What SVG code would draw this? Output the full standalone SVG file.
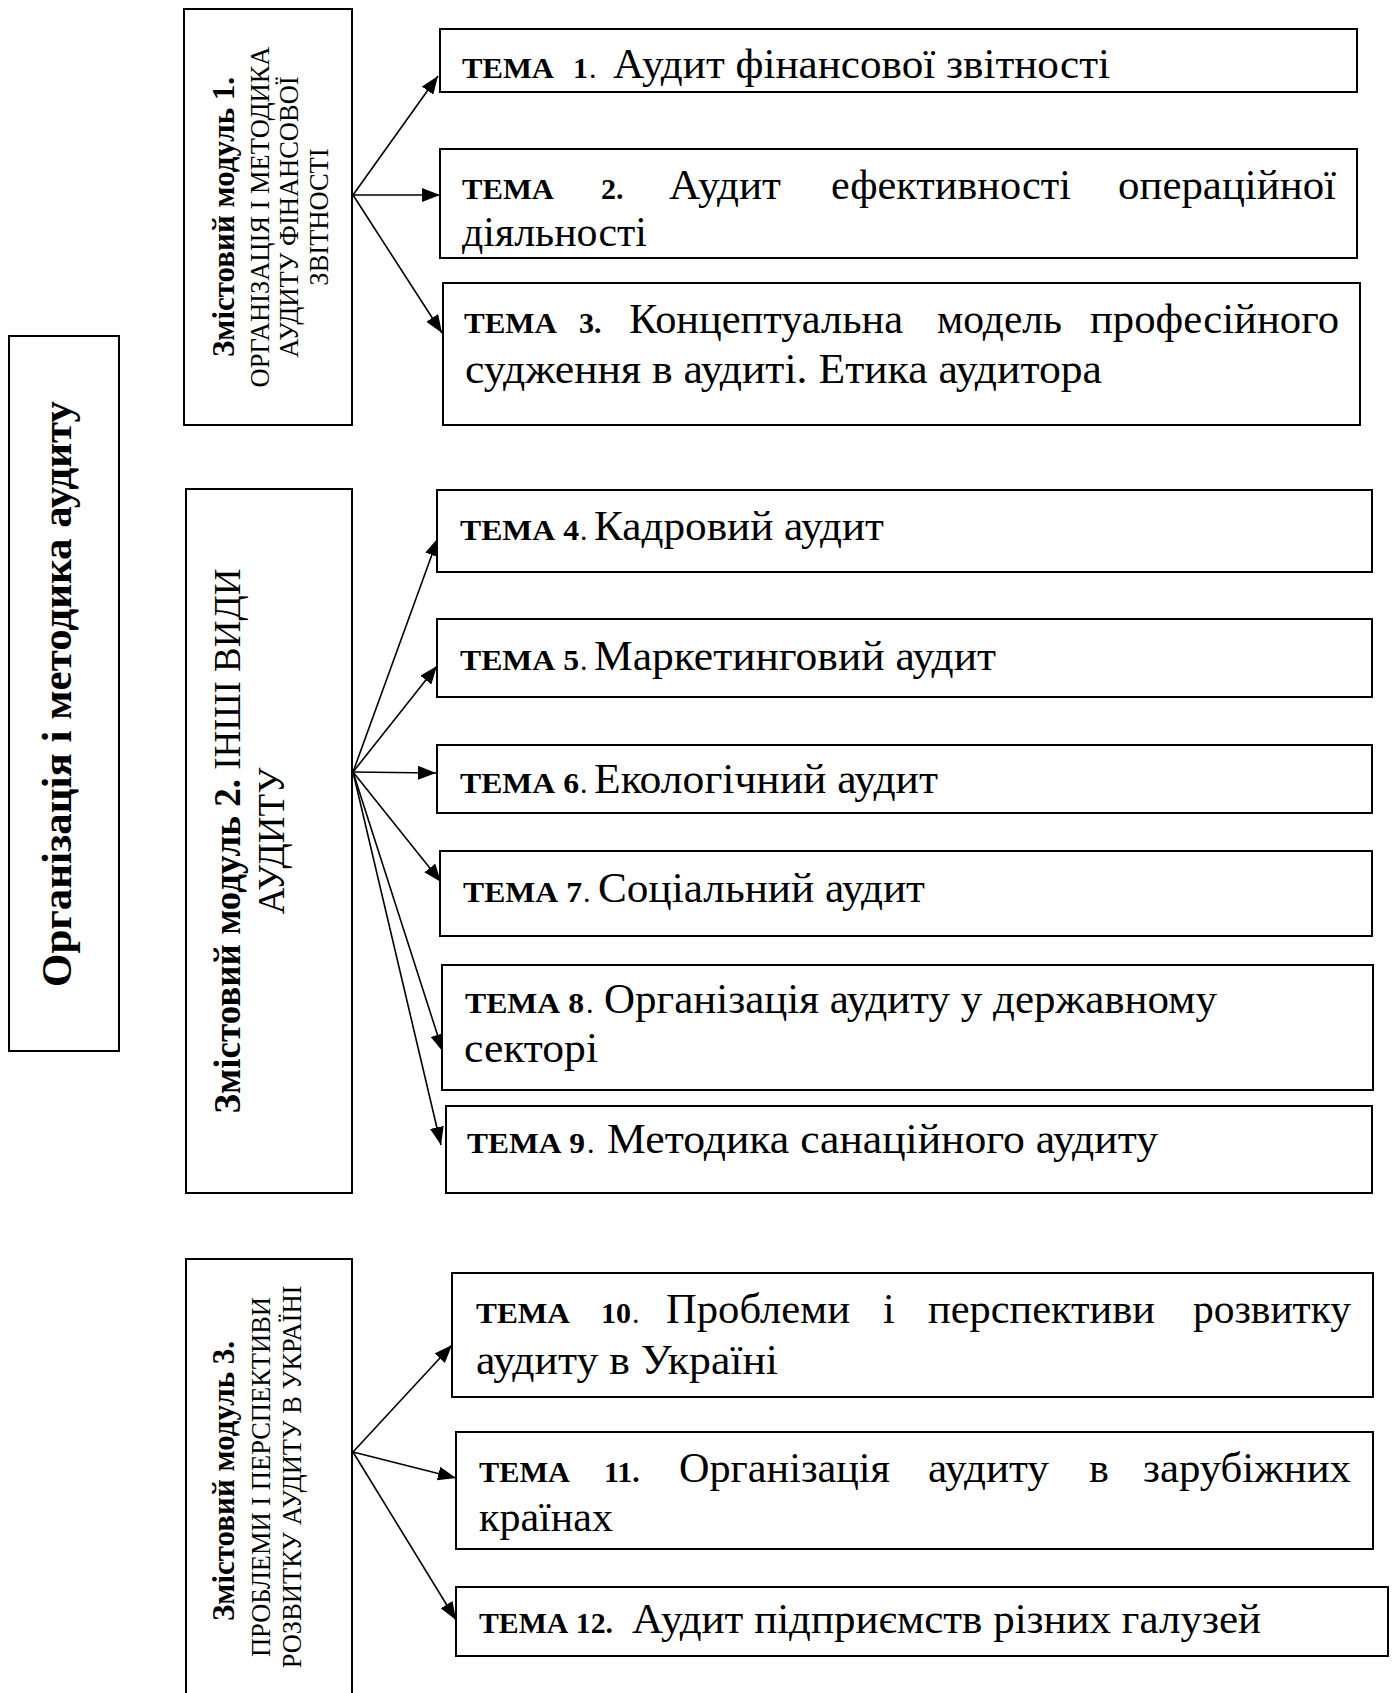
<svg xmlns="http://www.w3.org/2000/svg" width="1392" height="1693" viewBox="0 0 1392 1693">
<style>
.box{fill:#fff;stroke:#000;stroke-width:2}
text{font-family:"Liberation Serif","Times New Roman",serif;fill:#000}
.t{font-size:42px}
.b{font-weight:bold;font-size:30px}
.d{font-size:30px}
.m{font-size:26.5px}
.mb{font-size:31px;font-weight:bold}
.conn line{stroke:#000;stroke-width:1.6;marker-end:url(#arr)}
</style>
<defs>
<marker id="arr" markerUnits="userSpaceOnUse" markerWidth="19" markerHeight="14" refX="18" refY="7" orient="auto">
<path d="M0,0 L18,7 L0,14 z" fill="#000"/>
</marker>
</defs>
<rect width="1392" height="1693" fill="#fff"/>
<g id="connectors" class="conn">
<line x1="353" y1="195" x2="438" y2="76"/>
<line x1="353" y1="195" x2="440" y2="195"/>
<line x1="353" y1="195" x2="442" y2="333"/>
<line x1="353" y1="772" x2="438" y2="538"/>
<line x1="353" y1="772" x2="437" y2="666"/>
<line x1="353" y1="772" x2="436" y2="773"/>
<line x1="353" y1="772" x2="441" y2="882"/>
<line x1="353" y1="772" x2="443" y2="1052"/>
<line x1="353" y1="772" x2="441" y2="1145"/>
<line x1="353" y1="1452" x2="452" y2="1345"/>
<line x1="353" y1="1452" x2="456" y2="1478"/>
<line x1="353" y1="1452" x2="456" y2="1620"/>
</g>
<g id="main">
<rect class="box" x="9" y="336" width="110" height="715"/>
<text transform="translate(71,694) rotate(-90)" text-anchor="middle" font-size="43" font-weight="bold">Організація і методика аудиту</text>
</g>
<g id="module1">
<rect class="box" x="184" y="9" width="168" height="416"/>
<text class="mb" transform="translate(234,217) rotate(-90)" text-anchor="middle">Змістовий модуль 1.</text>
<text class="m" transform="translate(269,217) rotate(-90)" text-anchor="middle">ОРГАНІЗАЦІЯ І МЕТОДИКА</text>
<text class="m" transform="translate(298,217) rotate(-90)" text-anchor="middle">АУДИТУ ФІНАНСОВОЇ</text>
<text class="m" transform="translate(328,217) rotate(-90)" text-anchor="middle">ЗВІТНОСТІ</text>
</g>
<g id="module2">
<rect class="box" x="186" y="489" width="166" height="704"/>
<text transform="translate(240,841) rotate(-90)" text-anchor="middle" font-size="37"><tspan font-weight="bold">Змістовий модуль 2.</tspan> ІНШІ ВИДИ</text>
<text transform="translate(284,841) rotate(-90)" text-anchor="middle" font-size="37">АУДИТУ</text>
</g>
<g id="module3">
<rect class="box" x="186" y="1259" width="166" height="460"/>
<text class="mb" transform="translate(234,1481) rotate(-90)" text-anchor="middle">Змістовий модуль 3.</text>
<text class="m" transform="translate(270,1477) rotate(-90)" text-anchor="middle">ПРОБЛЕМИ І ПЕРСПЕКТИВИ</text>
<text class="m" transform="translate(301,1477) rotate(-90)" text-anchor="middle">РОЗВИТКУ АУДИТУ В УКРАЇНІ</text>
</g>
<g id="t1">
<rect class="box" x="440" y="29" width="917" height="63"/>
<text class="b" x="462" y="78" textLength="92" lengthAdjust="spacingAndGlyphs">ТЕМА</text>
<text class="b" x="573" y="78">1</text>
<text class="d" x="589" y="78">.</text>
<text class="t" x="613" y="78" textLength="497" lengthAdjust="spacingAndGlyphs">Аудит фінансової звітності</text>
</g>
<g id="t2">
<rect class="box" x="440" y="149" width="917" height="109"/>
<text class="b" x="462" y="199" textLength="92" lengthAdjust="spacingAndGlyphs">ТЕМА</text>
<text class="b" x="601" y="199">2.</text>
<text class="t" x="669" y="199" textLength="112" lengthAdjust="spacingAndGlyphs">Аудит</text>
<text class="t" x="831" y="199" textLength="240" lengthAdjust="spacingAndGlyphs">ефективності</text>
<text class="t" x="1118" y="199" textLength="218" lengthAdjust="spacingAndGlyphs">операційної</text>
<text class="t" x="462" y="246" textLength="185" lengthAdjust="spacingAndGlyphs">діяльності</text>
</g>
<g id="t3">
<rect class="box" x="443" y="283" width="917" height="142"/>
<text class="b" x="464" y="333" textLength="93" lengthAdjust="spacingAndGlyphs">ТЕМА</text>
<text class="b" x="579" y="333">3.</text>
<text class="t" x="629" y="333" textLength="274" lengthAdjust="spacingAndGlyphs">Концептуальна</text>
<text class="t" x="937" y="333" textLength="125" lengthAdjust="spacingAndGlyphs">модель</text>
<text class="t" x="1090" y="333" textLength="249" lengthAdjust="spacingAndGlyphs">професійного</text>
<text class="t" x="465" y="383" textLength="637" lengthAdjust="spacingAndGlyphs">судження в аудиті. Етика аудитора</text>
</g>
<g id="t4">
<rect class="box" x="437" y="490" width="935" height="82"/>
<text class="b" x="460" y="540" textLength="119" lengthAdjust="spacingAndGlyphs">ТЕМА 4</text>
<text class="d" x="580" y="540">.</text>
<text class="t" x="594" y="540" textLength="290" lengthAdjust="spacingAndGlyphs">Кадровий аудит</text>
</g>
<g id="t5">
<rect class="box" x="437" y="619" width="935" height="78"/>
<text class="b" x="460" y="670" textLength="119" lengthAdjust="spacingAndGlyphs">ТЕМА 5</text>
<text class="d" x="580" y="670">.</text>
<text class="t" x="594" y="670" textLength="402" lengthAdjust="spacingAndGlyphs">Маркетинговий аудит</text>
</g>
<g id="t6">
<rect class="box" x="437" y="745" width="935" height="68"/>
<text class="b" x="460" y="793" textLength="119" lengthAdjust="spacingAndGlyphs">ТЕМА 6</text>
<text class="d" x="580" y="793">.</text>
<text class="t" x="594" y="793" textLength="344" lengthAdjust="spacingAndGlyphs">Екологічний аудит</text>
</g>
<g id="t7">
<rect class="box" x="440" y="851" width="932" height="85"/>
<text class="b" x="463" y="902" textLength="119" lengthAdjust="spacingAndGlyphs">ТЕМА 7</text>
<text class="d" x="583" y="902">.</text>
<text class="t" x="598" y="902" textLength="327" lengthAdjust="spacingAndGlyphs">Соціальний аудит</text>
</g>
<g id="t8">
<rect class="box" x="442" y="965" width="931" height="125"/>
<text class="b" x="465" y="1013" textLength="119" lengthAdjust="spacingAndGlyphs">ТЕМА 8</text>
<text class="d" x="586" y="1013">.</text>
<text class="t" x="604" y="1013" textLength="613" lengthAdjust="spacingAndGlyphs">Організація аудиту у державному</text>
<text class="t" x="464" y="1062" textLength="134" lengthAdjust="spacingAndGlyphs">секторі</text>
</g>
<g id="t9">
<rect class="box" x="446" y="1106" width="926" height="87"/>
<text class="b" x="467" y="1153" textLength="118" lengthAdjust="spacingAndGlyphs">ТЕМА 9</text>
<text class="d" x="587" y="1153">.</text>
<text class="t" x="607" y="1153" textLength="551" lengthAdjust="spacingAndGlyphs">Методика санаційного аудиту</text>
</g>
<g id="t10">
<rect class="box" x="452" y="1273" width="921" height="124"/>
<text class="b" x="476" y="1323" textLength="94" lengthAdjust="spacingAndGlyphs">ТЕМА</text>
<text class="b" x="601" y="1323">10</text>
<text class="d" x="632" y="1323">.</text>
<text class="t" x="666" y="1323" textLength="184" lengthAdjust="spacingAndGlyphs">Проблеми</text>
<text class="t" x="883" y="1323">і</text>
<text class="t" x="928" y="1323" textLength="227" lengthAdjust="spacingAndGlyphs">перспективи</text>
<text class="t" x="1193" y="1323" textLength="158" lengthAdjust="spacingAndGlyphs">розвитку</text>
<text class="t" x="476" y="1374" textLength="302" lengthAdjust="spacingAndGlyphs">аудиту в Україні</text>
</g>
<g id="t11">
<rect class="box" x="456" y="1432" width="917" height="117"/>
<text class="b" x="479" y="1482" textLength="91" lengthAdjust="spacingAndGlyphs">ТЕМА</text>
<text class="b" x="604" y="1482">11.</text>
<text class="t" x="679" y="1482" textLength="211" lengthAdjust="spacingAndGlyphs">Організація</text>
<text class="t" x="928" y="1482" textLength="121" lengthAdjust="spacingAndGlyphs">аудиту</text>
<text class="t" x="1089" y="1482">в</text>
<text class="t" x="1143" y="1482" textLength="208" lengthAdjust="spacingAndGlyphs">зарубіжних</text>
<text class="t" x="479" y="1531" textLength="134" lengthAdjust="spacingAndGlyphs">країнах</text>
</g>
<g id="t12">
<rect class="box" x="456" y="1587" width="932" height="69"/>
<text class="b" x="479" y="1633" textLength="134" lengthAdjust="spacingAndGlyphs">ТЕМА 12.</text>
<text class="t" x="632" y="1633" textLength="629" lengthAdjust="spacingAndGlyphs">Аудит підприємств різних галузей</text>
</g>
</svg>
